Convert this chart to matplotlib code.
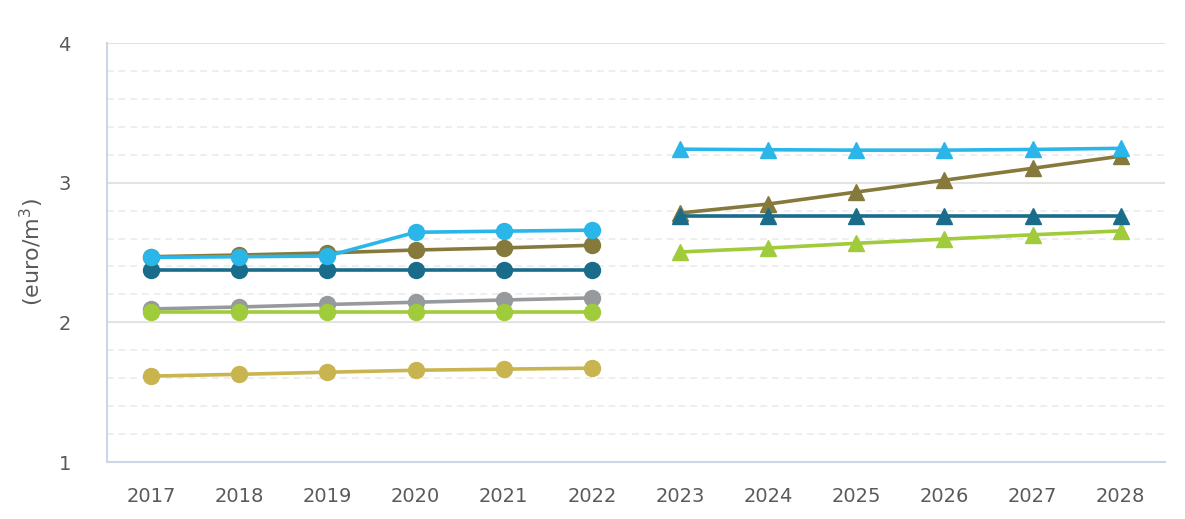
import numpy as np
import matplotlib
matplotlib.use("Agg")
import matplotlib.pyplot as plt

years = ["2017", "2018", "2019", "2020", "2021", "2022",
         "2023", "2024", "2025", "2026", "2027", "2028"]
past_idx = [0, 1, 2, 3, 4, 5]
fut_idx = [6, 7, 8, 9, 10, 11]

# historical series (circles)
gold_past = [1.615, 1.628, 1.643, 1.657, 1.665, 1.672]
green_past = [2.075, 2.075, 2.075, 2.075, 2.075, 2.075]
grey_past = [2.096, 2.110, 2.128, 2.144, 2.160, 2.175]
teal_past = [2.375, 2.375, 2.375, 2.375, 2.375, 2.375]
olive_past = [2.470, 2.482, 2.497, 2.518, 2.533, 2.552]
blue_past = [2.465, 2.470, 2.475, 2.645, 2.653, 2.660]

# forecast series (triangles)
green_fut = [2.504, 2.532, 2.566, 2.596, 2.627, 2.655]
teal_fut = [2.762, 2.762, 2.762, 2.762, 2.762, 2.762]
olive_fut = [2.783, 2.847, 2.933, 3.018, 3.103, 3.190]
blue_fut = [3.240, 3.236, 3.233, 3.233, 3.238, 3.246]

c_gold = "#c9b54f"
c_green = "#a0cb3a"
c_grey = "#979a9d"
c_teal = "#1a6c8b"
c_olive = "#857a3c"
c_blue = "#2ab6e8"

fig = plt.figure(figsize=(11.85, 5.19), dpi=100)
ax = fig.add_axes([0.0903, 0.1098, 0.8927, 0.8073])

lw = 2.6
for vals, col in [(gold_past, c_gold), (grey_past, c_grey), (green_past, c_green),
                  (teal_past, c_teal), (olive_past, c_olive), (blue_past, c_blue)]:
    ax.plot(past_idx, vals, color=col, lw=lw, marker="o", ms=11.5, zorder=3)

for vals, col in [(green_fut, c_green), (olive_fut, c_olive),
                  (teal_fut, c_teal), (blue_fut, c_blue)]:
    ax.plot(fut_idx, vals, color=col, lw=lw, marker="^", ms=11, zorder=3)

ax.set_xlim(-0.5, 11.5)
ax.set_ylim(1, 4)
ax.set_xticks(range(len(years)))
ax.set_xticklabels(years)
ax.set_yticks([1, 2, 3, 4])
ax.set_yticks(np.arange(1.2, 4.0, 0.2), minor=True)

ax.grid(axis="y", which="major", color="#e3e3e3", lw=1.5, zorder=0)
ax.grid(axis="y", which="minor", color="#ebebeb", lw=1.2, ls=(0, (4, 3)), zorder=0)
ax.set_axisbelow(True)

for s in ["top", "right"]:
    ax.spines[s].set_visible(False)
for s in ["left", "bottom"]:
    ax.spines[s].set_color("#ccd6e6")
    ax.spines[s].set_linewidth(1.5)

ax.tick_params(axis="both", which="both", length=0, labelsize=14, colors="#5a5a5a")
ax.tick_params(axis="y", pad=26)
ax.tick_params(axis="x", pad=18)

ax.set_ylabel("(euro/m$^{3}$)", fontsize=16, color="#5a5a5a")
ax.yaxis.set_label_coords(-0.058, 0.5)

fig.savefig("out.png", dpi=100)
